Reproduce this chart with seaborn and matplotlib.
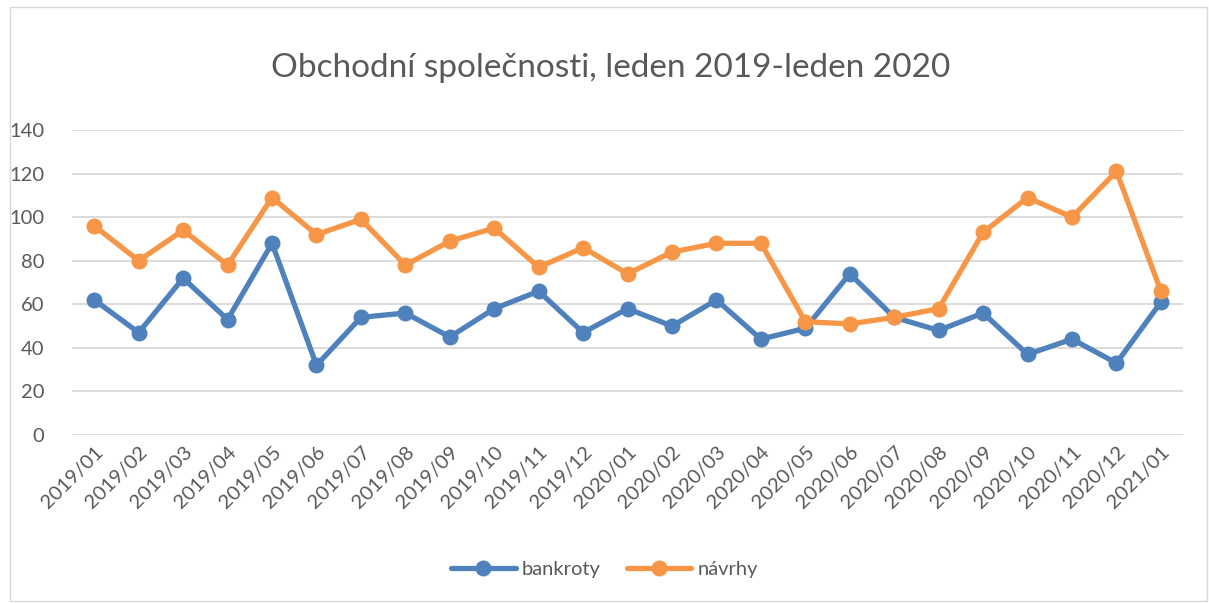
import matplotlib
matplotlib.use("Agg")
import matplotlib.pyplot as plt
import seaborn as sns
import pandas as pd
from matplotlib.patches import Rectangle

mesice = ["2019/01", "2019/02", "2019/03", "2019/04", "2019/05", "2019/06", "2019/07",
          "2019/08", "2019/09", "2019/10", "2019/11", "2019/12", "2020/01", "2020/02",
          "2020/03", "2020/04", "2020/05", "2020/06", "2020/07", "2020/08", "2020/09",
          "2020/10", "2020/11", "2020/12", "2021/01"]
bankroty = [62, 47, 72, 53, 88, 32, 54, 56, 45, 58, 66, 47, 58, 50, 62, 44, 49, 74,
            54, 48, 56, 37, 44, 33, 61]
navrhy = [96, 80, 94, 78, 109, 92, 99, 78, 89, 95, 77, 86, 74, 84, 88, 88, 52, 51,
          54, 58, 93, 109, 100, 121, 66]

df = pd.DataFrame({
    "mesic": mesice * 2,
    "pocet": bankroty + navrhy,
    "serie": ["bankroty"] * len(mesice) + ["návrhy"] * len(mesice),
})

sns.set_style("white")
plt.rcParams["font.family"] = ["Lato", "DejaVu Sans"]
seda = "#595959"

fig = plt.figure(figsize=(12.09, 6.03), dpi=100)
ax = fig.add_axes([0.0596, 0.2786, 0.919, 0.5058])

sns.lineplot(data=df, x="mesic", y="pocet", hue="serie", sort=False,
             palette={"bankroty": "#4F81BD", "návrhy": "#F79646"},
             marker="o", markersize=11.5, markeredgewidth=0, linewidth=3.8, ax=ax)

ax.set_xlim(-0.5, len(mesice) - 0.5)
ax.set_ylim(0, 140)
ax.set_yticks(range(0, 141, 20))
ax.yaxis.grid(True, color="#D9D9D9", linewidth=1.3)
ax.set_axisbelow(True)
for s in ax.spines.values():
    s.set_visible(False)
ax.tick_params(axis="both", length=0, colors=seda, labelsize=14.5)
ax.tick_params(axis="y", pad=20)
ax.tick_params(axis="x", pad=6)
plt.setp(ax.get_xticklabels(), rotation=45, ha="right", rotation_mode="anchor")
ax.set_xlabel("")
ax.set_ylabel("")

fig.text(0.505, 0.887, "Obchodní společnosti, leden 2019-leden 2020",
         ha="center", va="center", fontsize=24, color=seda)

handles, labels = ax.get_legend_handles_labels()
ax.get_legend().remove()
fig.legend(handles, labels, loc="center", bbox_to_anchor=(0.5, 0.055), ncol=2,
           frameon=False, fontsize=14.5, labelcolor=seda, handlelength=3.2,
           columnspacing=1.3, handletextpad=0.3)

fig.patches.append(Rectangle((0.008, 0.003), 0.99, 0.985, transform=fig.transFigure,
                             fill=False, edgecolor="#D9D9D9", linewidth=1))

fig.savefig("out.png", dpi=100, facecolor="white")
